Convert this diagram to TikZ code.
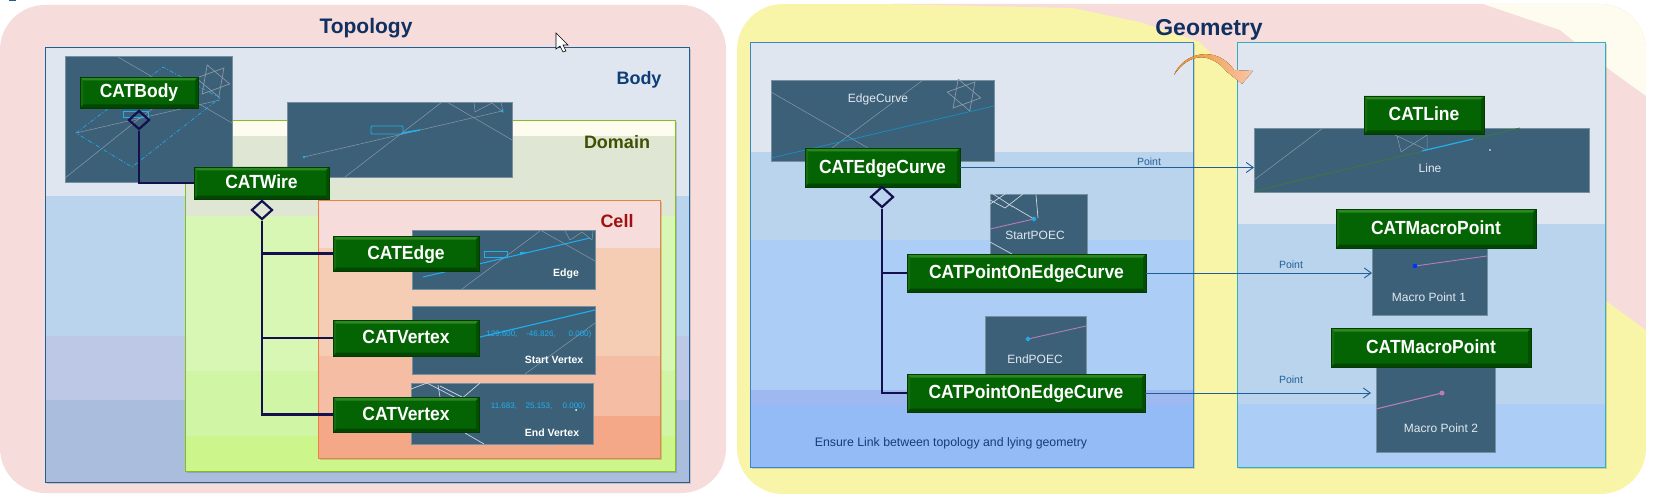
\documentclass[tikz,border=0pt]{standalone}
\usepackage{fontspec}
\setmainfont{Liberation Sans}
\newfontfamily\btnfont[FakeStretch=0.92]{Liberation Sans}
\usetikzlibrary{shapes.geometric,fit,calc,arrows.meta}
\definecolor{imgcol}{HTML}{3C6078}
\definecolor{navy}{HTML}{14104F}
\definecolor{ptblue}{HTML}{1F5F96}
\definecolor{scan}{HTML}{20B0F0}
\definecolor{wire}{HTML}{8A98A8}
\definecolor{pinkline}{HTML}{B87CB8}
\definecolor{paneltint}{HTML}{F6DCDB}
\definecolor{yel}{HTML}{F8F5A8}
\definecolor{creamy}{HTML}{FEFBEF}
\definecolor{bandA}{HTML}{E0E6F0}
\definecolor{bandB}{HTML}{BBD4EE}
\definecolor{bandC}{HTML}{ACCDF5}
\definecolor{bandD}{HTML}{94BBF5}
\definecolor{bandE}{HTML}{9FB8F0}
\definecolor{lavA}{HTML}{BCC8E6}
\definecolor{lavB}{HTML}{ABBDDD}
\definecolor{domA}{HTML}{DFE6D3}
\definecolor{domB}{HTML}{D8F6B4}
\definecolor{domC}{HTML}{D0F5A4}
\definecolor{domD}{HTML}{CCF58C}
\definecolor{domEdge}{HTML}{82BE1E}
\definecolor{cellA}{HTML}{F5CDB4}
\definecolor{cellB}{HTML}{F5BDA4}
\definecolor{cellC}{HTML}{F5A888}
\definecolor{cellEdge}{HTML}{F08040}
\definecolor{geoEdge}{HTML}{3A86C8}
\definecolor{tealEdge}{HTML}{30B0C0}
\definecolor{arrowA}{HTML}{F09020}
\definecolor{arrowB}{HTML}{F8C4A8}
\definecolor{btnFill}{HTML}{046404}
\definecolor{btnEdge}{HTML}{023C02}
\definecolor{btnTop}{HTML}{2C8820}
\definecolor{btnBot}{HTML}{034603}
\definecolor{btnRight}{HTML}{035003}
\definecolor{btnLeft}{HTML}{146E10}
\definecolor{capcol}{HTML}{E2E8F0}
\definecolor{headcol}{HTML}{0F3060}
\definecolor{bodycol}{HTML}{0F3D78}
\definecolor{domcol}{HTML}{3F5000}
\definecolor{cellcol}{HTML}{A01010}
\definecolor{ensurecol}{HTML}{143C78}
\definecolor{linegreen}{HTML}{3C783C}
\definecolor{lightwire}{HTML}{CCD6E0}
\tikzset{
 x=1pt,y=-1pt,
 imgpanel/.style={fill=imgcol,draw=imgcol!70!white,line width=.5pt,inner sep=0pt,outer sep=0pt},
 catbtn/.style={fill=btnFill,draw=btnEdge,line width=.8pt,inner sep=0pt,outer sep=0pt,
   text=white,font=\btnfont\bfseries\fontsize{19}{21}\selectfont,text height=14pt,text depth=3pt,
   path picture={
     \coordinate (nw) at (path picture bounding box.north west);
     \coordinate (ne) at (path picture bounding box.north east);
     \coordinate (sw) at (path picture bounding box.south west);
     \coordinate (se) at (path picture bounding box.south east);
     \coordinate (inw) at ($(nw)+(3pt,-3.5pt)$);
     \coordinate (ine) at ($(ne)+(-3pt,-3.5pt)$);
     \coordinate (isw) at ($(sw)+(3pt,3.5pt)$);
     \coordinate (ise) at ($(se)+(-3pt,3.5pt)$);
     \fill[btnTop] (nw)--(ne)--(ine)--(inw)--cycle;
     \fill[btnBot] (sw)--(se)--(ise)--(isw)--cycle;
     \fill[btnRight] (ne)--(se)--(ise)--(ine)--cycle;
     \fill[btnLeft] (nw)--(sw)--(isw)--(inw)--cycle;
   }},
 hubmark/.style={diamond,aspect=1.1,draw=navy,line width=2.2pt,inner sep=0pt,minimum width=21pt,minimum height=19pt},
 treeline/.style={draw=navy,line width=2.8pt,line join=miter},
 ptarrow/.style={draw=ptblue,line width=.9pt,-{Straight Barb[length=7pt,width=10pt]}},
 thinwire/.style={draw=wire,line width=.5pt},
 brightwire/.style={draw=lightwire,line width=.7pt},
 imglabel/.style={text=capcol,font=\fontsize{12}{14}\selectfont,inner sep=0pt},
 imgbold/.style={text=white,font=\bfseries\fontsize{10.5}{12}\selectfont,inner sep=0pt},
 coordtext/.style={text=scan,font=\fontsize{8}{10}\selectfont,inner sep=0pt},
 ptlabel/.style={text=ptblue,font=\fontsize{10.5}{12}\selectfont,inner sep=0pt},
 headline/.style={text=headcol,inner sep=0pt},
 arealabel/.style={font=\bfseries\fontsize{18}{20}\selectfont,inner sep=0pt},
}
\newcommand{\hexstar}[3]{\begin{scope}[shift={(#1,#2)}]
  \draw[thinwire,line width=.7pt,draw=#3] (10:17)--(130:17)--(250:17)--cycle (70:17)--(190:17)--(310:17)--cycle;
\end{scope}}
\newcommand{\boxshadow}[4]{\fill[black,opacity=.14] (#1+2,#2+2) rectangle (#3+2,#4+2);}
\newcommand{\catnode}[6]{%
  \pgfmathsetmacro\btnw{#4-#2}\pgfmathsetmacro\btnh{#5-#3}%
  \pgfmathsetmacro\btnx{(#2+#4)/2}\pgfmathsetmacro\btny{(#3+#5)/2}%
  \node[catbtn,minimum width=\btnw pt,minimum height=\btnh pt] (#1) at (\btnx,\btny) {#6};}
\begin{document}
\begin{tikzpicture}
\useasboundingbox (0,0) rectangle (1663,500);
\fill[white] (0,0) rectangle (1663,500);
\fill[ptblue] (9,0) rectangle (16,1);
% ---------- panels
\fill[paneltint,rounded corners=45pt] (0,5) rectangle (726,493);
\begin{scope}
 \clip[rounded corners=46pt] (737,4) rectangle (1646,494);
 \fill[yel] (737,4) rectangle (1646,494);
 \fill[paneltint] (890,4)--(1073,8)--(1140,22)--(1200,42)--(1237,80)--(1605,300)--(1646,330)--(1646,4)--cycle;
 \fill[creamy] (1483,4)--(1560,30)--(1610,70)--(1646,96)--(1646,4)--cycle;
\end{scope}
% ---------- Topology main box
\boxshadow{45}{47}{689}{482}
\fill[bandA] (45,47) rectangle (689,196);
\fill[bandB] (45,196) rectangle (689,336);
\fill[lavA] (45,336) rectangle (689,400);
\fill[lavB] (45,400) rectangle (689,482);
\draw[ptblue,line width=.9pt] (45,47) rectangle (689,482);
% Domain
\boxshadow{185}{120}{675}{471}
\fill[creamy] (185,120) rectangle (675,136);
\fill[domA] (185,136) rectangle (675,216);
\fill[domB] (185,216) rectangle (675,371);
\fill[domC] (185,371) rectangle (675,436);
\fill[domD] (185,436) rectangle (675,471);
\draw[domEdge,line width=.9pt] (185,120) rectangle (675,471);
% Cell
\boxshadow{318}{200}{660}{458}
\fill[paneltint] (318,200) rectangle (660,248);
\fill[cellA] (318,248) rectangle (660,356);
\fill[cellB] (318,356) rectangle (660,416);
\fill[cellC] (318,416) rectangle (660,458);
\draw[cellEdge,line width=.9pt] (318,200) rectangle (660,458);
% ---------- Geometry boxes
\boxshadow{750}{42}{1193}{467}
\fill[bandA] (750,42) rectangle (1193,152);
\fill[bandB] (750,152) rectangle (1193,240);
\fill[bandC] (750,240) rectangle (1193,390);
\fill[bandE] (750,390) rectangle (1193,404);
\fill[bandD] (750,404) rectangle (1193,467);
\draw[geoEdge,line width=.9pt] (750,42) rectangle (1193,467);
\boxshadow{1237}{42}{1605}{467}
\fill[bandA] (1237,42) rectangle (1605,224);
\fill[bandB] (1237,224) rectangle (1605,404);
\fill[bandC] (1237,404) rectangle (1605,467);
\draw[tealEdge,line width=.9pt] (1237,42) rectangle (1605,467);
% ---------- curved arrow
\fill[left color=arrowA,right color=arrowB]
  (1174,75) .. controls (1183,53) and (1216,44) .. (1234,70) -- (1253,71) -- (1242,84) -- (1227,72)
  .. controls (1212,53) and (1190,51) .. (1174,75) -- cycle;
% ---------- cursor
\fill[white,draw=black,line width=.6pt] (556,33)--(556,49)--(560,46)--(563,52)--(566,51)--(563,45)--(568,45)--cycle;
% ---------- picture panels
\node[imgpanel,fit={(65,56)(232,182)}] (bodyimg) {};
\begin{scope}
 \clip (bodyimg.south west) rectangle (bodyimg.north east);
 \draw[thinwire] (65,178)--(140,118)--(170,96);
 \draw[thinwire] (118,57)--(232,123);
 \draw[thinwire] (76,133)--(220,100);
 \draw[scan,line width=.6pt,dash pattern=on 4pt off 2pt on 1pt off 2pt] (76,133)--(163,67)--(220,98)--(132,167)--cycle;
 \draw[scan,line width=.7pt] (123,111) rectangle (148,117);
 \hexstar{213}{81}{wire}
\end{scope}
\node[imgpanel,fit={(287,102)(512,177)}] (wireimg) {};
\begin{scope}
 \clip (wireimg.south west) rectangle (wireimg.north east);
 \draw[thinwire] (304,157)--(502,111);
 \draw[thinwire] (345,177)--(442,102);
 \draw[thinwire] (447,102)--(512,140);
 \draw[thinwire] (474,102)--(475,112)--(492,103)--(503,112)--(501,102);
 \draw[scan,line width=.9pt,rounded corners=1pt] (371,126) rectangle (403,134);
 \draw[scan,line width=1.4pt] (402,133)--(420,130);
 \fill[scan] (304,157) circle (1.3) (502,111) circle (1.5);
\end{scope}
\node[imgpanel,fit={(412,230)(595,289)}] (edgeimg) {};
\begin{scope}
 \clip (edgeimg.south west) rectangle (edgeimg.north east);
 \draw[thinwire] (462,289)--(540,231);
 \draw[thinwire] (542,231)--(595,261);
 \draw[thinwire] (565,231)--(570,240)--(582,232)--(592,240)--(593,231);
 \draw[scan,line width=1pt] (423,277)--(590,238);
 \draw[scan,line width=.8pt] (484,251) rectangle (507,257);
 \fill[scan] (520,252)--(527,252.5)--(520,255)--cycle;
\end{scope}
\node[imgbold] (edgecap) at (566,274) {Edge};
\node[imgpanel,fit={(412,306)(595,374)}] (startimg) {};
\begin{scope}
 \clip (startimg.south west) rectangle (startimg.north east);
 \draw[thinwire] (525,374)--(595,323);
 \draw[scan,line width=1.1pt] (480,337)--(595,310);
\end{scope}
\node[coordtext] (sa) at (502,334) {129.600,};
\node[coordtext] (sb) at (541,334) {-46.826,};
\node[coordtext] (sc) at (580,334) {0.000)};
\node[imgbold] (startcap) at (554,360) {Start Vertex};
\node[imgpanel,fit={(411,383)(593,444)}] (endimg) {};
\begin{scope}
 \clip (endimg.south west) rectangle (endimg.north east);
 \draw[brightwire] (411,389)--(427,383)--(460,400)--(480,383) (438,385)--(440,397) (440,386)--(462,397) (465,433)--(484,444);
 \fill[white] (576,410) circle (1);
\end{scope}
\node[coordtext] (ea) at (504,406) {11.683,};
\node[coordtext] (eb) at (539,406) {25.153,};
\node[coordtext] (ec) at (574,406) {0.000)};
\node[imgbold] (endcap) at (552,433) {End Vertex};
% geometry pictures
\node[imgpanel,fit={(771,80)(994,161)}] (curveimg) {};
\begin{scope}
 \clip (curveimg.south west) rectangle (curveimg.north east);
 \draw[thinwire] (771,92)--(868,148);
 \draw[thinwire] (832,148)--(923,80);
 \hexstar{964}{95}{wire}
 \draw[scan!80!black,line width=.8pt] (771,158)--(994,106);
\end{scope}
\node[imglabel] (curvecap) at (878,99) {EdgeCurve};
\node[imgpanel,fit={(990,194)(1087,255)}] (spimg) {};
\begin{scope}
 \clip (spimg.south west) rectangle (spimg.north east);
 \draw[brightwire] (990,200)--(1005,208)--(1023,194) (993,194)--(1013,207) (1005,194)--(990,204) (1034,219)--(1012,206) (1038,218)--(1036,195) (990,242)--(1012,254);
 \draw[pinkline,line width=.9pt] (990,229)--(1034,219);
 \draw[scan,line width=1.2pt] (1034,219) circle (1.8);
\end{scope}
\node[imglabel] (spcap) at (1035,235) {StartPOEC};
\node[imgpanel,fit={(985,316)(1086,375)}] (epimg) {};
\draw[pinkline,line width=.9pt] (1028,339)--(1086,326);
\draw[scan,line width=1.2pt] (1028,339) circle (1.8);
\node[imglabel] (epcap) at (1035,359) {EndPOEC};
\node[imgpanel,fit={(1254,128)(1589,192)}] (lineimg) {};
\begin{scope}
 \clip (lineimg.south west) rectangle (lineimg.north east);
 \draw[thinwire] (1254,180)--(1323,128);
 \draw[thinwire] (1395,135)--(1427,150)--(1427,135)--(1401,152)--(1397,136);
 \draw[linegreen,line width=.8pt] (1254,191)--(1520,128);
 \draw[scan,line width=1.2pt] (1422,151)--(1473,139);
 \fill[white] (1490,150) circle (.9);
\end{scope}
\node[imglabel] (linecap) at (1430,168) {Line};
\node[imgpanel,fit={(1372,247)(1487,315)}] (m1img) {};
\draw[pinkline,line width=.9pt] (1415,266)--(1487,256);
\fill[blue!80!cyan] (1415,266) circle (2.3);
\node[imglabel] (m1cap) at (1429,297) {Macro Point 1};
\node[imgpanel,fit={(1376,367)(1495,452)}] (m2img) {};
\draw[pinkline,line width=1.1pt] (1376,409)--(1442,393);
\fill[pinkline] (1442,393) circle (2.5);
\node[imglabel] (m2cap) at (1441,428) {Macro Point 2};
% ---------- buttons
\catnode{catbody}{80}{77}{198}{108}{CATBody}
\catnode{catwire}{194}{167}{329}{199}{CATWire}
\catnode{catedge}{333}{236}{479}{271}{CATEdge}
\catnode{catvone}{333}{320}{479}{356}{CATVertex}
\catnode{catvtwo}{333}{397}{479}{432}{CATVertex}
\catnode{catcurve}{805}{148}{960}{187}{CATEdgeCurve}
\catnode{poecone}{907}{254}{1146}{292}{CATPointOnEdgeCurve}
\catnode{poectwo}{907}{374}{1145}{412}{CATPointOnEdgeCurve}
\catnode{catline}{1364}{96}{1484}{134}{CATLine}
\catnode{macroone}{1336}{209}{1536}{248}{CATMacroPoint}
\catnode{macrotwo}{1331}{328}{1531}{367}{CATMacroPoint}
% ---------- diamonds and tree connectors
\node[hubmark] (dbody) at (139,120) {};
\node[hubmark] (dwire) at (262,210) {};
\node[hubmark,minimum width=23pt,minimum height=21pt] (dcurve) at (882,197) {};
\draw[treeline] (dbody.south) |- (catwire.west);
\draw[treeline] (dwire.south) |- (catedge.west);
\draw[treeline] (dwire.south) |- (catvone.west);
\draw[treeline] (dwire.south) |- (catvtwo.west);
\draw[treeline] (dcurve.south) |- (poecone.west);
\draw[treeline] (dcurve.south) |- (poectwo.west);
% ---------- point connectors
\draw[ptarrow] (catcurve.east) -- (lineimg.west |- catcurve.east);
\draw[ptarrow] (poecone.east) -- (m1img.west |- poecone.east);
\draw[ptarrow,shorten >=5pt] (poectwo.east) -- (m2img.west |- poectwo.east);
\node[ptlabel] (pta) at (1149,162) {Point};
\node[ptlabel] (ptb) at (1291,265) {Point};
\node[ptlabel] (ptc) at (1291,380) {Point};
% ---------- headings
\node[headline,font=\bfseries\fontsize{21}{24}\selectfont] (topo) at (366,28) {Topology};
\node[headline,font=\bfseries\fontsize{23}{26}\selectfont] (geom) at (1209,30) {Geometry};
\node[arealabel,text=bodycol] (lbody) at (639,80) {Body};
\node[arealabel,text=domcol] (ldomain) at (617,142) {Domain};
\node[arealabel,text=cellcol] (lcell) at (617,221) {Cell};
\node[text=ensurecol,font=\fontsize{12.3}{14}\selectfont,inner sep=0pt] (ensure) at (951,443) {Ensure Link between topology and lying geometry};
\end{tikzpicture}
\end{document}
